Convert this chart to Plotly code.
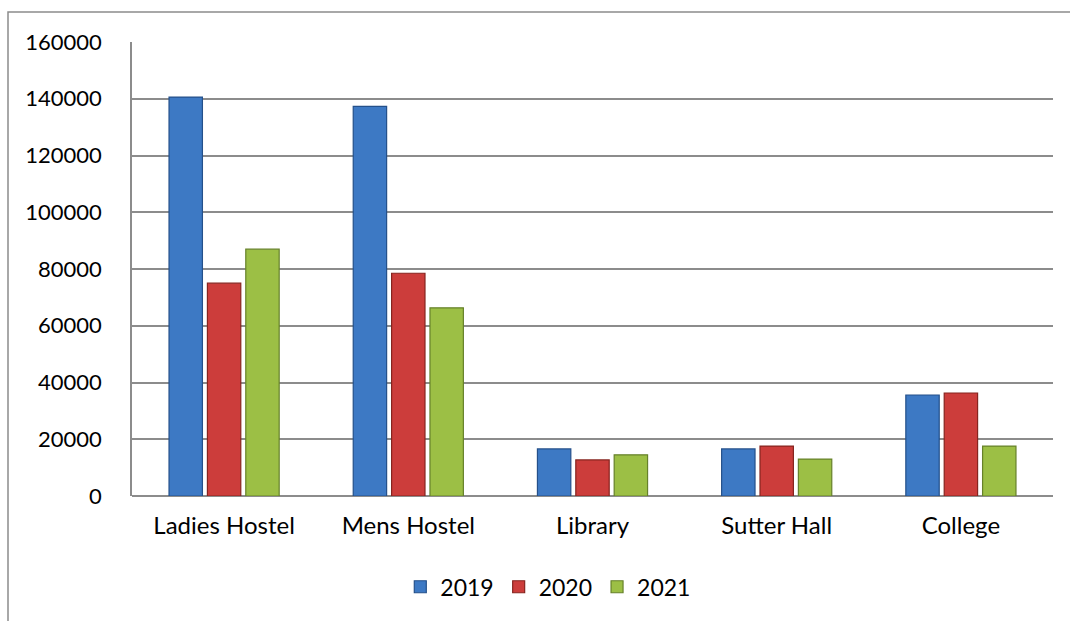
import plotly.graph_objects as go

# Buildings on the category axis
categories = ["Ladies Hostel", "Mens Hostel", "Library", "Sutter Hall", "College"]

# Yearly values per building
values_2019 = [140600, 137300, 16600, 16600, 35600]
values_2020 = [75000, 78500, 12700, 17600, 36300]
values_2021 = [87000, 66300, 14500, 13000, 17600]

years = ["2019", "2020", "2021"]
series = [values_2019, values_2020, values_2021]
fills = ["#3D79C4", "#CC3D3B", "#9CBF45"]
edges = ["#24508A", "#86241F", "#66812A"]

y_ticks = [0, 20000, 40000, 60000, 80000, 100000, 120000, 140000, 160000]

fig = go.Figure()
for name, vals, fill, edge in zip(years, series, fills, edges):
    fig.add_trace(go.Bar(
        x=categories, y=vals, name=name,
        marker=dict(color=fill, line=dict(color=edge, width=1.2)),
    ))

grey = "#8C8C8C"
font_family = "Lato, Liberation Sans, sans-serif"

fig.update_layout(
    width=1070, height=621,
    margin=dict(l=132, r=17, t=42, b=125),
    paper_bgcolor="white", plot_bgcolor="white",
    barmode="group", bargap=0.375, bargroupgap=0.13,
    font=dict(family=font_family, size=22, color="#000000"),
    showlegend=True,
    legend=dict(
        orientation="h", x=0.452, xanchor="center", y=-0.2, yanchor="middle",
        font=dict(size=23), itemwidth=30, traceorder="normal",
    ),
    xaxis=dict(
        showgrid=False, showline=False, zeroline=False,
        ticks="", ticklabelstandoff=13, tickfont=dict(size=24),
    ),
    yaxis=dict(
        range=[0, 160000], tickvals=y_ticks, ticktext=[str(v) for v in y_ticks],
        showgrid=True, gridcolor=grey, gridwidth=1.5,
        zeroline=True, zerolinecolor=grey, zerolinewidth=1.5,
        showline=True, linecolor=grey, linewidth=1.5,
        ticks="", ticklabelstandoff=24,
    ),
    shapes=[
        # outer chart frame, running off the right and bottom edges
        dict(type="rect", xref="paper", yref="paper",
             x0=(8 - 132) / 921, x1=1.2, y0=-0.5, y1=1 + 30 / 454,
             line=dict(color=grey, width=1.5), fillcolor="rgba(0,0,0,0)",
             layer="below"),
    ],
)

fig.write_html("out.html")
